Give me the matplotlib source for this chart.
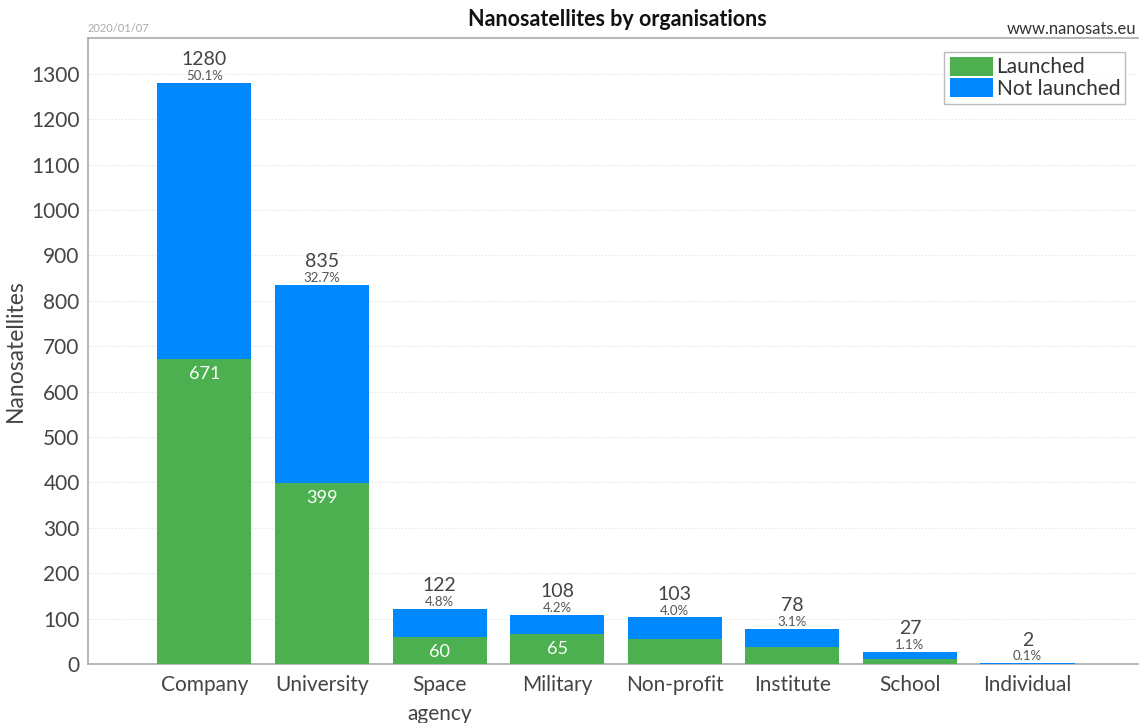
import matplotlib
matplotlib.use("Agg")
import matplotlib.pyplot as plt
import numpy as np

categories = ["Company", "University", "Space\nagency", "Military", "Non-profit", "Institute", "School", "Individual"]
totals = [1280, 835, 122, 108, 103, 78, 27, 2]
launched = [671, 399, 60, 65, 56, 37, 12, 1]
percents = ["50.1%", "32.7%", "4.8%", "4.2%", "4.0%", "3.1%", "1.1%", "0.1%"]
launched_labels = ["671", "399", "60", "65", "", "", "", ""]
yticks = list(range(0, 1301, 100))

not_launched = [t - l for t, l in zip(totals, launched)]

plt.rcParams['font.family'] = ['Lato', 'DejaVu Sans']
GREEN = "#4caf50"
BLUE = "#0088ff"
TXT = "#444444"

fig = plt.figure(figsize=(11.4, 7.23), dpi=100)
ax = fig.add_axes([88/1140, 1 - 664/723, (1138-88)/1140, (664-38)/723])

x = np.arange(len(categories))
ax.bar(x, launched, width=0.8, color=GREEN, label="Launched", zorder=3)
ax.bar(x, not_launched, width=0.8, bottom=launched, color=BLUE, label="Not launched", zorder=3)

ax.set_xlim(-0.99, 7.94)
ax.set_ylim(0, 1379)
ax.set_yticks(yticks)
ax.set_xticks(x)
ax.set_xticklabels(categories, fontsize=15, color=TXT, linespacing=1.55)
ax.tick_params(axis='y', labelsize=15, labelcolor=TXT, length=0, pad=6)
ax.tick_params(axis='x', length=0, pad=8)
ax.grid(axis='y', color='#dddddd', linestyle=(0, (1, 2)), linewidth=0.8, zorder=0)

for s in ['left', 'bottom', 'top']:
    ax.spines[s].set_color('#aaaaaa')
    ax.spines[s].set_linewidth(1.2)
ax.spines['right'].set_visible(False)

ax.set_ylabel("Nanosatellites", fontsize=16.5, color=TXT, labelpad=4)

for i, (t, p) in enumerate(zip(totals, percents)):
    ax.annotate(str(t), (i, t), xytext=(0, 10.5), textcoords='offset points',
                ha='center', va='bottom', fontsize=14, color=TXT)
    ax.annotate(p, (i, t), xytext=(0, 0.5), textcoords='offset points',
                ha='center', va='bottom', fontsize=9.5, color='#555555')

for i, (l, lab) in enumerate(zip(launched, launched_labels)):
    if lab:
        ax.annotate(lab, (i, l), xytext=(0, -5), textcoords='offset points',
                    ha='center', va='top', fontsize=13, color='white')

leg = ax.legend(loc='upper right', bbox_to_anchor=(0.988, 0.978), fontsize=15,
                frameon=True, fancybox=False, edgecolor='#aaaaaa',
                handlelength=2.1, handleheight=1.0, handletextpad=0.15,
                borderpad=0.25, labelspacing=0.05, borderaxespad=0)
leg.get_frame().set_linewidth(1.0)
for t in leg.get_texts():
    t.set_color('#333333')

fig.text(617/1140, 1 - 20/723, "Nanosatellites by organisations", ha='center', va='center',
         fontsize=15.5, fontweight='bold', color='#111111')
fig.text(88/1140, 1 - 29/723, "2020/01/07", ha='left', va='center', fontsize=8, color='#aaaaaa')
fig.text(1136/1140, 1 - 29/723, "www.nanosats.eu", ha='right', va='center', fontsize=12, color='#333333')

fig.savefig("out.png", dpi=100)
